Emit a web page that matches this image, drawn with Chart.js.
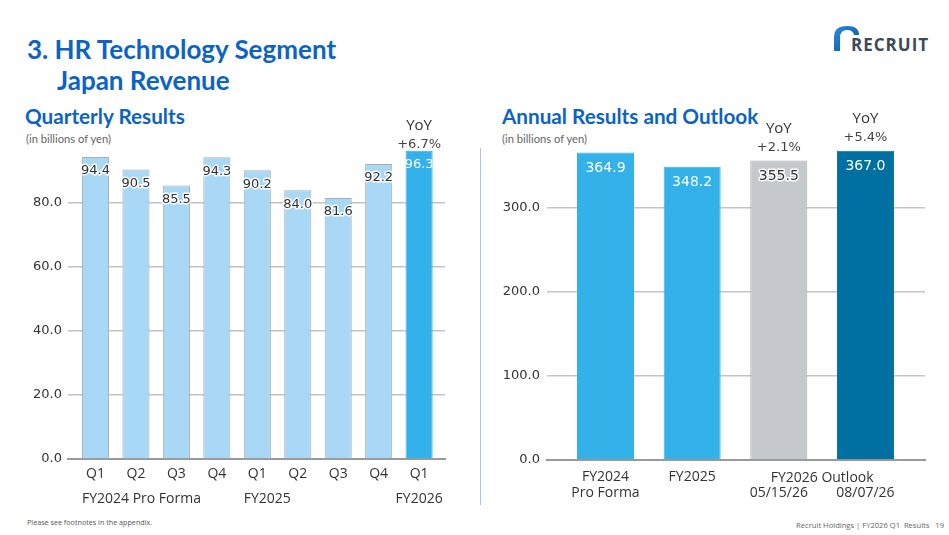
<!DOCTYPE html>
<html><head><meta charset="utf-8">
<script src="https://cdn.jsdelivr.net/npm/chart.js@4.4.1/dist/chart.umd.min.js"></script>
<style>
body{margin:0;width:949px;height:535px;position:relative;background:#fff;overflow:hidden;font-family:Lato,"Open Sans",sans-serif}
.abs{position:absolute;white-space:nowrap}
.h1{font-family:Lato,sans-serif;font-weight:700;font-size:26px;color:#0B63C5;line-height:30px}
.h2{font-family:Lato,sans-serif;font-weight:700;font-size:20.7px;color:#0B63C5;line-height:22px}
.unit{font-family:Lato,sans-serif;font-size:11.2px;color:#666;line-height:12px}
.box{position:absolute}
</style></head><body>
<div class="abs h1" style="left:27px;top:34px">3. HR Technology Segment</div>
<div class="abs h1" style="left:57px;top:65px">Japan Revenue</div>
<div class="abs h2" style="left:25px;top:105px">Quarterly Results</div>
<div class="abs unit" style="left:26px;top:133px">(in billions of yen)</div>
<div class="abs h2" style="left:502px;top:105px">Annual Results and Outlook</div>
<div class="abs unit" style="left:502px;top:133px">(in billions of yen)</div>
<div class="abs" style="left:480px;top:148px;width:1px;height:357px;background:#a9c6e6"></div>
<svg class="abs" style="left:0;top:0" width="949" height="60">
  <defs><linearGradient id="g" x1="0" y1="0" x2="1" y2="1"><stop offset="0" stop-color="#2a8de0"/><stop offset="1" stop-color="#0a4f9e"/></linearGradient></defs>
  <path d="M834 51 L834 37 Q834 26 847 26 Q859 26 859 35 L854 35 Q853 30 847 30 Q840 30 840 38 L840 51 Z" fill="url(#g)"/>
</svg>
<div class="abs" style="left:851px;top:33px;font-family:'Open Sans',sans-serif;font-weight:700;font-size:17px;letter-spacing:1px;color:#3d4a57">RECRUIT</div>
<div class="abs" style="left:27px;top:517px;font-size:7.2px;color:#555;font-family:'Open Sans',sans-serif">Please see footnotes in the appendix.</div>
<div class="abs" style="right:5px;top:520px;font-size:7.6px;color:#666;font-family:'Open Sans',sans-serif">Recruit Holdings | FY2026 Q1&nbsp; Results&nbsp;&nbsp; 19</div>

<div class="box" style="left:0;top:100px;width:475px;height:430px"><canvas id="cL"></canvas></div>
<div class="box" style="left:475px;top:100px;width:474px;height:430px"><canvas id="cR"></canvas></div>

<script>
// ---- data ----
const quarterLabels = ['Q1','Q2','Q3','Q4','Q1','Q2','Q3','Q4','Q1'];
const quarterValues = [94.4, 90.5, 85.5, 94.3, 90.2, 84.0, 81.6, 92.2, 96.3];
const quarterYoY = [null, null, null, null, null, null, null, null, '+6.7%'];
const fiscalGroups = ['FY2024 Pro Forma', 'FY2025', 'FY2026'];
const fiscalGroupStart = [0, 4, 8];
const quarterTicks = [0, 20, 40, 60, 80];

const annualLabels = [['FY2024','Pro Forma'], ['FY2025'], ['','05/15/26'], ['','08/07/26']];
const annualValues = [364.9, 348.2, 355.5, 367.0];
const annualYoY = [null, null, '+2.1%', '+5.4%'];
const outlookGroup = 'FY2026 Outlook';
const outlookIdx = [2, 3];
const annualTicks = [0, 100, 200, 300];

const HUM = "'Open Sans', sans-serif";
const MONO = "'DejaVu Sans', sans-serif";

function haloText(ctx, txt, x, y, color, halo) {
  if (halo) { ctx.lineWidth = 3; ctx.strokeStyle = 'rgba(255,255,255,0.95)'; ctx.lineJoin='round'; ctx.strokeText(txt, x, y); }
  ctx.fillStyle = color; ctx.fillText(txt, x, y);
}

function labelPlugin(values, yoy, opts) {
  return {
    id: 'lbl',
    afterDatasetsDraw(chart) {
      const ctx = chart.ctx;
      const meta = chart.getDatasetMeta(0);
      ctx.save();
      ctx.textAlign = 'center'; ctx.textBaseline = 'middle';
      meta.data.forEach((bar, i) => {
        ctx.font = opts.valueFont;
        const c = opts.valueColor(i);
        haloText(ctx, values[i].toFixed(1), bar.x, bar.y + opts.valueOffset, c, c !== '#ffffff');
        if (yoy[i]) {
          ctx.font = opts.yoyFont;
          haloText(ctx, yoy[i], bar.x, bar.y - opts.pctOffset, '#444', true);
          ctx.font = "15px " + HUM;
          ctx.fillStyle = '#333';
          ctx.fillText('YoY', bar.x, bar.y - opts.pctOffset - 19);
        }
      });
      ctx.restore();
    }
  };
}

const groupPlugin = {
  id: 'grp',
  afterDraw(chart) {
    const ctx = chart.ctx, meta = chart.getDatasetMeta(0);
    const y = chart.chartArea.bottom + 40;
    ctx.save(); ctx.font = "14px " + HUM; ctx.fillStyle = '#333'; ctx.textBaseline = 'middle';
    fiscalGroups.forEach((g, k) => {
      const bar = meta.data[fiscalGroupStart[k]];
      if (k === fiscalGroups.length - 1) { ctx.textAlign = 'center'; ctx.fillText(g, bar.x, y); }
      else { ctx.textAlign = 'left'; ctx.fillText(g, bar.x - bar.width / 2, y); }
    });
    ctx.restore();
  }
};

const outlookPlugin = {
  id: 'outl',
  afterDraw(chart) {
    const ctx = chart.ctx, meta = chart.getDatasetMeta(0);
    const x = (meta.data[outlookIdx[0]].x + meta.data[outlookIdx[1]].x) / 2;
    ctx.save(); ctx.font = "14px " + HUM; ctx.fillStyle = '#333'; ctx.textAlign = 'center'; ctx.textBaseline = 'middle';
    ctx.fillText(outlookGroup, x, chart.chartArea.bottom + 18);
    ctx.restore();
  }
};

// ---- left chart ----
const nQ = quarterValues.length;
new Chart(document.getElementById('cL'), {
  type: 'bar',
  data: { datasets: [{
    data: quarterValues.map((v, i) => ({ x: i, y: v })),
    backgroundColor: quarterValues.map((v, i) => i === nQ - 1 ? '#33B1EA' : '#A8D8F5'),
    borderColor: quarterValues.map((v, i) => i === nQ - 1 ? '#33B1EA' : '#A6B0BA'),
    borderWidth: 1,
    barPercentage: 0.67, categoryPercentage: 1
  }]},
  options: {
    responsive: true, maintainAspectRatio: false, animation: false,
    layout: { padding: { top: 39, right: 30, left: 0, bottom: 0 } },
    plugins: { legend: { display: false }, tooltip: { enabled: false } },
    scales: {
      x: { type: 'linear', min: -0.68, max: nQ - 1 + 0.64, offset: false,
        grid: { display: false, offset: false },
        border: { display: true, color: '#9a9a9a', width: 2 },
        afterBuildTicks(s) { s.ticks = quarterLabels.map((_, i) => ({ value: i })); },
        afterFit(s) { s.height = 71; },
        ticks: { callback: v => quarterLabels[v], autoSkip: false, maxRotation: 0, padding: -1, color: '#333', font: { family: HUM, size: 14 } } },
      y: { min: 0, max: 100,
        afterBuildTicks(s) { s.ticks = quarterTicks.map(v => ({ value: v })); },
        afterFit(s) { s.width = 68; },
        grid: { color: c => c.tick && c.tick.value === 0 ? 'rgba(0,0,0,0)' : '#c4c4c4', lineWidth: 1.5, drawTicks: false },
        border: { display: false },
        ticks: { callback: v => Number(v).toFixed(1), padding: 6, color: '#333', font: { family: MONO, size: 13 } } }
    }
  },
  plugins: [labelPlugin(quarterValues, quarterYoY, {
    valueFont: "13px " + MONO, valueOffset: 14, pctOffset: 6, yoyFont: "13px " + MONO,
    valueColor: i => i === nQ - 1 ? '#ffffff' : '#333'
  }), groupPlugin]
});

// ---- right chart ----
const annualColors = ['#33B2EA', '#33B2EA', '#C5C8CC', '#0070A3'];
const annualBorders = ['#33B2EA', '#33B2EA', '#A9ADB2', '#0070A3'];
const nA = annualValues.length;
new Chart(document.getElementById('cR'), {
  type: 'bar',
  data: { datasets: [{
    data: annualValues.map((v, i) => ({ x: i, y: v })),
    backgroundColor: annualColors, borderColor: annualBorders, borderWidth: 1,
    barPercentage: 0.658, categoryPercentage: 1
  }]},
  options: {
    responsive: true, maintainAspectRatio: false, animation: false,
    layout: { padding: { top: 23, right: 24, left: 0, bottom: 0 } },
    plugins: { legend: { display: false }, tooltip: { enabled: false } },
    scales: {
      x: { type: 'linear', min: -0.675, max: nA - 1 + 0.687, offset: false,
        grid: { display: false, offset: false },
        border: { display: true, color: '#9a9a9a', width: 2 },
        afterBuildTicks(s) { s.ticks = annualLabels.map((_, i) => ({ value: i })); },
        afterFit(s) { s.height = 70; },
        ticks: { callback: v => annualLabels[v], autoSkip: false, maxRotation: 0, padding: 1, color: '#333', font: { family: HUM, size: 14, lineHeight: 1.15 } } },
      y: { min: 0, max: 400,
        afterBuildTicks(s) { s.ticks = annualTicks.map(v => ({ value: v })); },
        afterFit(s) { s.width = 72; },
        grid: { color: c => c.tick && c.tick.value === 0 ? 'rgba(0,0,0,0)' : '#c4c4c4', lineWidth: 1.5, drawTicks: false },
        border: { display: false },
        ticks: { callback: v => Number(v).toFixed(1), padding: 7, color: '#333', font: { family: MONO, size: 13 } } }
    }
  },
  plugins: [labelPlugin(annualValues, annualYoY, {
    valueFont: "14px " + MONO, valueOffset: 16, pctOffset: 13, yoyFont: "13px " + MONO,
    valueColor: i => i === 2 ? '#333' : '#ffffff'
  }), outlookPlugin]
});
</script>
</body></html>
